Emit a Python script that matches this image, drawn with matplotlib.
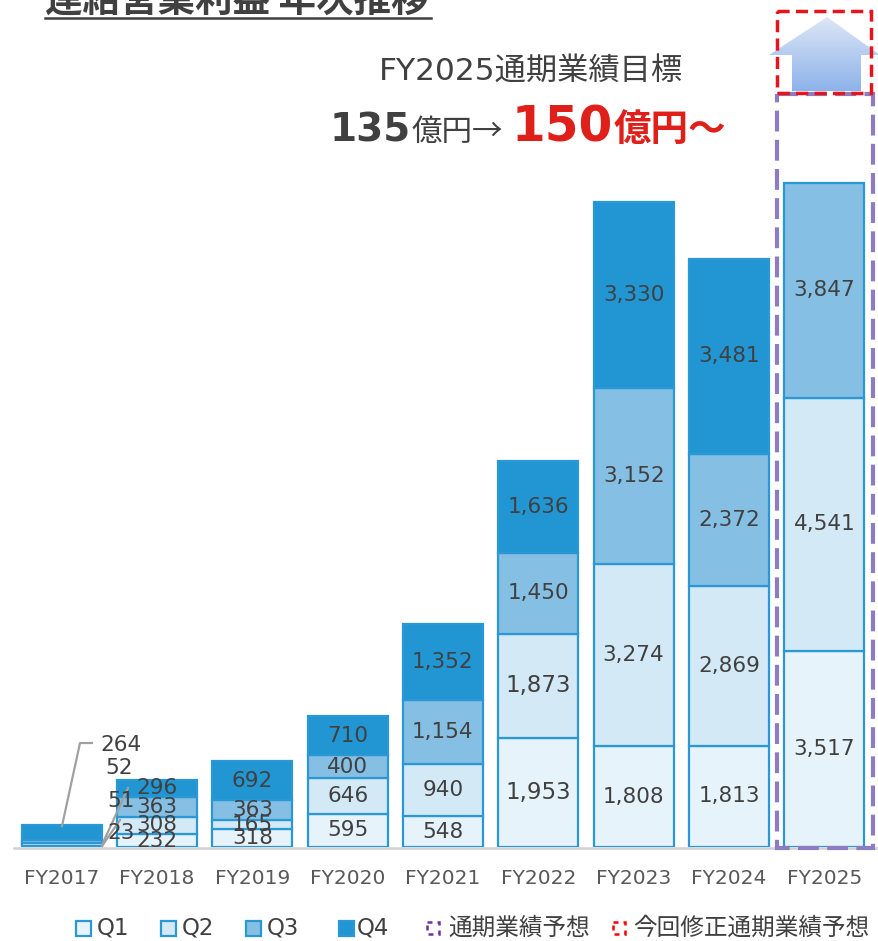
import matplotlib
matplotlib.use("Agg")
import matplotlib.pyplot as plt
import numpy as np
from matplotlib.patches import Polygon, Rectangle
from matplotlib.colors import LinearSegmentedColormap

plt.rcParams['font.family'] = ['DejaVu Sans', 'Noto Sans CJK JP']

# ---------------- data ----------------
years = ["FY2017", "FY2018", "FY2019", "FY2020", "FY2021",
         "FY2022", "FY2023", "FY2024", "FY2025"]
q1 = [23, 232, 318, 595, 548, 1953, 1808, 1813, 3517]
q2 = [51, 308, 165, 646, 940, 1873, 3274, 2869, 4541]
q3 = [52, 363, 363, 400, 1154, 1450, 3152, 2372, 3847]
q4 = [264, 296, 692, 710, 1352, 1636, 3330, 3481, 0]
series_names = ["Q1", "Q2", "Q3", "Q4"]

title_text = "連結営業利益 年次推移"
target_title = "FY2025通期業績目標"
legend_forecast = "通期業績予想"
legend_revised = "今回修正通期業績予想"

# ---------------- style ----------------
W, H = 879, 941
DPI = 100
fill_colors = ["#E7F3FB", "#D4E9F6", "#85BFE3", "#2196D3"]
edge_color = "#2A98D5"
label_color = "#404040"
tick_color = "#595959"

fig = plt.figure(figsize=(W / DPI, H / DPI), dpi=DPI)

ax_left, ax_right = 14, 872
base_y = 847
px_per_unit = 664 / 11905.0
ymax = base_y / px_per_unit
ax = fig.add_axes([ax_left / W, (H - base_y) / H, (ax_right - ax_left) / W, base_y / H])
ax.set_xlim(-0.5, len(years) - 0.5)
ax.set_ylim(0, ymax)
ax.axis("off")

x = np.arange(len(years))
series = [q1, q2, q3, q4]
bottom = np.zeros(len(years))
bar_w = 0.84
for si, vals in enumerate(series):
    vals = np.array(vals, dtype=float)
    mask = vals > 0
    ax.bar(x[mask], vals[mask], bar_w, bottom=bottom[mask], color=fill_colors[si],
           edgecolor=edge_color, linewidth=1.6, zorder=3)
    for i in range(len(years)):
        if vals[i] <= 0 or i == 0:
            continue
        fs = 15.5
        if i == 5 and si in (0, 1):
            fs = 16.5
        ax.text(x[i], bottom[i] + vals[i] / 2, f"{int(vals[i]):,}", ha="center",
                va="center", fontsize=fs, color=label_color, zorder=5)
    bottom = bottom + vals

ov = fig.add_axes([0, 0, 1, 1])
ov.set_xlim(0, W)
ov.set_ylim(H, 0)
ov.axis("off")
ov.set_zorder(10)
ov.patch.set_alpha(0)

ov.plot([14, 876], [base_y + 1, base_y + 1], color="#D0D0D0", lw=1.8, zorder=1)

lead_c = "#A0A0A0"
ov.plot([62, 80, 92], [826, 743, 743], color=lead_c, lw=1.6)
ov.text(100, 745, f"{q4[0]:,}", fontsize=15.5, color=label_color, va="center", ha="left")
ov.text(105, 768, f"{q3[0]:,}", fontsize=15.5, color=label_color, va="center", ha="left")
ov.plot([102, 128], [845, 788], color=lead_c, lw=1.6)
ov.text(107, 801, f"{q2[0]:,}", fontsize=15.5, color=label_color, va="center", ha="left")
ov.plot([102, 120], [846, 820], color=lead_c, lw=1.6)
ov.text(107, 833, f"{q1[0]:,}", fontsize=15.5, color=label_color, va="center", ha="left")

for i, yl in enumerate(years):
    xp = ax_left + (i + 0.5) * (ax_right - ax_left) / len(years)
    ov.text(xp, 879, yl, ha="center", va="center", fontsize=14.5, color=tick_color)

arrow_pts = [(827, 17), (769, 55), (792, 55), (792, 91), (861, 91), (861, 55), (880, 55)]
poly = Polygon(arrow_pts, closed=True, facecolor="none", edgecolor="none")
ov.add_patch(poly)
grad = np.linspace(0, 1, 256).reshape(-1, 1)
cmap = LinearSegmentedColormap.from_list("g", ["#DDE7F6", "#8DB2EA"])
im = ov.imshow(grad, cmap=cmap, extent=(765, 882, 91, 17), aspect="auto", zorder=2)
im.set_clip_path(poly)
ov.set_xlim(0, W)
ov.set_ylim(H, 0)

ov.add_patch(Rectangle((777, 94), 96, 754, fill=False, edgecolor="#8E7CC3",
                       lw=3.0, linestyle=(0, (5, 2)), zorder=4))
ov.add_patch(Rectangle((777, 11), 94, 82, fill=False, edgecolor="#E8141B",
                       lw=2.5, linestyle=(0, (3.5, 1.8)), zorder=5))

ov.text(45, 12, title_text, fontsize=27, fontweight="bold", color="#404040",
        family=["Noto Sans CJK JP", "DejaVu Sans"], ha="left", va="baseline")
ov.plot([45, 431], [18, 18], color="#404040", lw=1.8)

ov.text(531, 72, target_title, fontsize=22.5, color="#404040",
        family=["DejaVu Sans", "Noto Sans CJK JP"], ha="center", va="center")
ov.text(330, 141, "135", fontsize=28, fontweight="bold", color="#404040",
        ha="left", va="baseline")
ov.text(411, 141, "億円→", fontsize=22, color="#404040",
        family=["Noto Sans CJK JP", "DejaVu Sans"], ha="left", va="baseline")
ov.text(512, 141, "150", fontsize=35, fontweight="bold", color="#DF1F1A",
        ha="left", va="baseline")
ov.text(614, 141, "億円～", fontsize=27, fontweight="bold", color="#DF1F1A",
        family=["Noto Sans CJK JP", "DejaVu Sans"], ha="left", va="baseline")

leg_y = 928
sq = 15
for xs, tx, c, lab in [(76, 97, fill_colors[0], series_names[0]),
                       (161, 182, fill_colors[1], series_names[1]),
                       (246, 267, fill_colors[2], series_names[2]),
                       (339, 357, fill_colors[3], series_names[3])]:
    ov.add_patch(Rectangle((xs, leg_y - sq / 2), sq, sq, facecolor=c, edgecolor=edge_color, lw=1.6))
    ov.text(tx, leg_y, lab, fontsize=16.5, color="#404040", ha="left", va="center")

ov.add_patch(Rectangle((427, leg_y - 6), 12, 12, fill=False, edgecolor="#7030A0",
                       lw=1.8, linestyle=(0, (2, 2))))
ov.text(448, leg_y, legend_forecast, fontsize=17, color="#404040",
        family=["Noto Sans CJK JP", "DejaVu Sans"], ha="left", va="center")
ov.add_patch(Rectangle((613, leg_y - 6), 12, 12, fill=False, edgecolor="#FF0000",
                       lw=1.8, linestyle=(0, (2, 2))))
ov.text(633, leg_y, legend_revised, fontsize=17, color="#404040",
        family=["Noto Sans CJK JP", "DejaVu Sans"], ha="left", va="center")

fig.savefig("out.png", dpi=DPI)
